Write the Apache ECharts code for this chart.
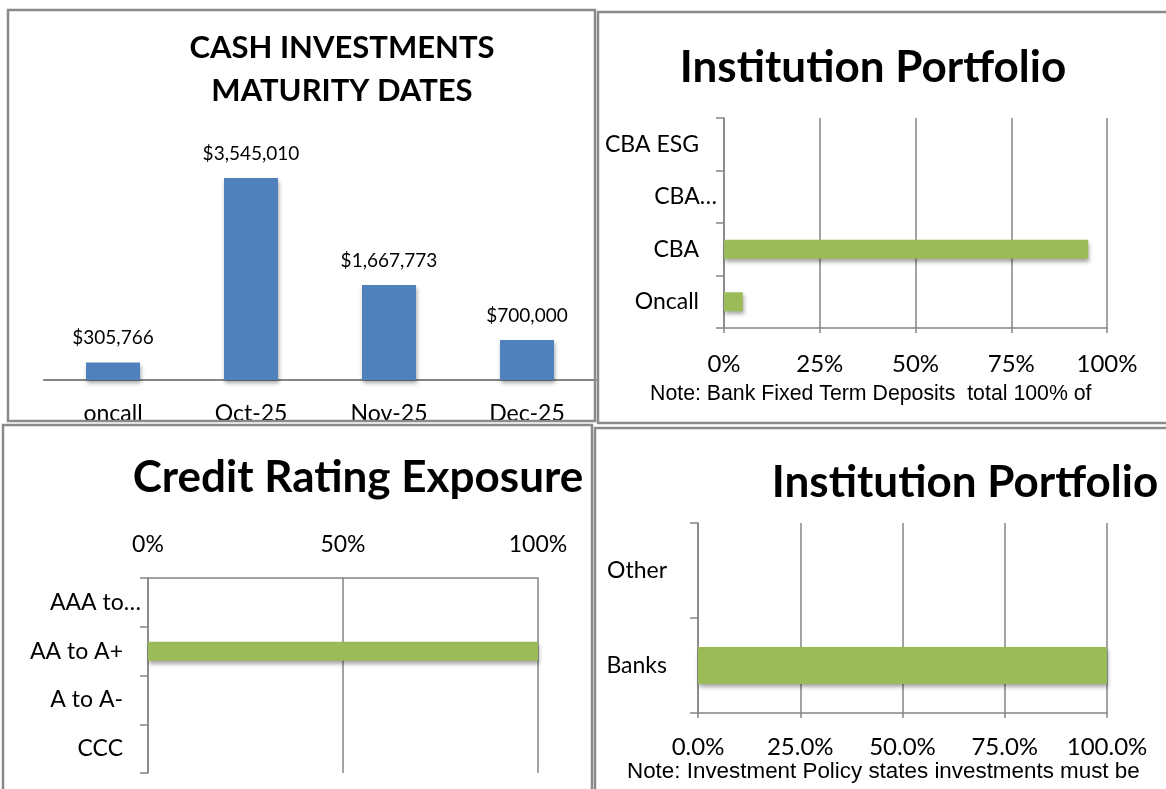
<!DOCTYPE html>
<html>
<head>
<meta charset="utf-8">
<script src="https://cdn.jsdelivr.net/npm/echarts@6/dist/echarts.min.js"></script>
<style>
  html, body { margin: 0; padding: 0; background: #fff; }
  #chart { width: 1166px; height: 789px; }
</style>
</head>
<body>
<div id="chart"></div>
<script>
// cash maturity dates
const cashCategories = ['oncall', 'Oct-25', 'Nov-25', 'Dec-25']
const cashValues = [305766, 3545010, 1667773, 700000]

// institution portfolio (top)
const institutionCategories = ['Oncall', 'CBA', 'CBA…', 'CBA ESG']
const institutionShares = [0.049, 0.951, 0, 0]

// credit rating exposure
const ratingCategories = ['AAA to…', 'AA to A+', 'A to A-', 'CCC']
const ratingShares = [0, 1, 0, 0]

// institution portfolio (bottom)
const sectorCategories = ['Banks', 'Other']
const sectorShares = [1, 0]

const BLUE = '#4F81BD'
const GREEN = '#9BBB59'
const GRID_GREY = '#858585'
const FONT = 'Lato, "Open Sans", sans-serif'
const NOTE_FONT = '"Liberation Sans", Arial, sans-serif'

const chart = echarts.init(document.getElementById('chart'))

const barShadow = {
  shadowBlur: 4,
  shadowColor: 'rgba(0,0,0,0.35)',
  shadowOffsetX: 1,
  shadowOffsetY: 3
}

function pctAxis(gridIndex, interval, fmt, extra) {
  return Object.assign({
    type: 'value',
    gridIndex: gridIndex,
    min: 0,
    max: 1,
    interval: interval,
    axisLine: { show: true, lineStyle: { color: GRID_GREY, width: 1.5 } },
    axisTick: { show: true, length: 5, lineStyle: { color: GRID_GREY, width: 1.5 } },
    splitLine: { show: true, lineStyle: { color: GRID_GREY, width: 1.5 } },
    axisLabel: {
      color: '#000', fontFamily: FONT, fontSize: 24, margin: 24,
      formatter: fmt
    }
  }, extra || {})
}

// truncated labels (ending in …) sit closer to the axis, like the original
function catLabel(size, pad) {
  const base = { color: '#000', fontFamily: FONT, fontSize: size }
  return {
    color: '#000', fontFamily: FONT, fontSize: size, margin: 7,
    formatter: v => v.endsWith('…') ? '{cut|' + v + '}' : '{full|' + v + '}',
    rich: {
      cut: base,
      full: Object.assign({ padding: [0, pad, 0, 0] }, base)
    }
  }
}

function catAxis(gridIndex, data, extra) {
  return Object.assign({
    type: 'category',
    gridIndex: gridIndex,
    data: data,
    axisLine: { show: true, lineStyle: { color: GRID_GREY, width: 1.5 } },
    axisTick: { show: true, length: 8, lineStyle: { color: GRID_GREY, width: 1.5 } },
    axisLabel: catLabel(23, 18)
  }, extra || {})
}

function panelBorder(x, y, w, h) {
  return {
    type: 'rect',
    shape: { x: x, y: y, width: w, height: h },
    style: { fill: 'none', stroke: '#8a8a8a', lineWidth: 2.5 },
    z: 101
  }
}

function titleText(text, x, y, size, lineHeight) {
  return {
    type: 'text',
    x: x, y: y,
    style: {
      text: text,
      fill: '#000',
      font: 'bold ' + size + 'px ' + FONT,
      textAlign: 'center',
      textVerticalAlign: 'middle',
      lineHeight: lineHeight || size
    },
    z: 50
  }
}

function noteText(text, x, y, size) {
  return {
    type: 'text',
    x: x, y: y,
    style: {
      text: text,
      fill: '#000',
      font: size + 'px ' + NOTE_FONT,
      textVerticalAlign: 'middle'
    },
    z: 50
  }
}

const option = {
  animation: false,
  backgroundColor: '#fff',
  grid: [
    { left: 44, right: 570, top: 152, bottom: 409 },
    { left: 724, right: 59, top: 118, bottom: 461 },
    { left: 148, right: 628, top: 578, bottom: 16 },
    { left: 698, right: 59, top: 523, bottom: 76 }
  ],
  xAxis: [
    {
      type: 'category',
      gridIndex: 0,
      data: cashCategories,
      axisLine: { lineStyle: { color: GRID_GREY, width: 2 } },
      axisTick: { show: false },
      axisLabel: { color: '#000', fontFamily: FONT, fontSize: 23, margin: 22 }
    },
    pctAxis(1, 0.25, v => Math.round(v * 100) + '%'),
    pctAxis(2, 0.5, v => Math.round(v * 100) + '%', {
      position: 'top',
      axisTick: { show: false },
      axisLabel: {
        color: '#000', fontFamily: FONT, fontSize: 23, margin: 22,
        formatter: v => Math.round(v * 100) + '%'
      }
    }),
    pctAxis(3, 0.25, v => (v * 100).toFixed(1) + '%', {
      axisLabel: {
        color: '#000', fontFamily: FONT, fontSize: 24, margin: 22,
        formatter: v => (v * 100).toFixed(1) + '%'
      }
    })
  ],
  yAxis: [
    { type: 'value', gridIndex: 0, min: 0, max: 4000000, show: false },
    catAxis(1, institutionCategories),
    catAxis(2, ratingCategories, { inverse: true }),
    catAxis(3, sectorCategories, {
      axisLabel: { color: '#000', fontFamily: FONT, fontSize: 23, margin: 31 }
    })
  ],
  series: [
    {
      type: 'bar',
      xAxisIndex: 0, yAxisIndex: 0,
      data: cashValues,
      barWidth: 54,
      itemStyle: Object.assign({ color: BLUE }, barShadow),
      label: {
        show: true,
        position: 'top',
        distance: 15,
        color: '#000',
        fontFamily: FONT,
        fontSize: 19,
        formatter: p => '$' + p.value.toLocaleString('en-US')
      }
    },
    {
      type: 'bar',
      xAxisIndex: 1, yAxisIndex: 1,
      data: institutionShares,
      barWidth: 19,
      itemStyle: Object.assign({ color: GREEN }, barShadow)
    },
    {
      type: 'bar',
      xAxisIndex: 2, yAxisIndex: 2,
      data: ratingShares,
      barWidth: 19,
      itemStyle: Object.assign({ color: GREEN }, barShadow)
    },
    {
      type: 'bar',
      xAxisIndex: 3, yAxisIndex: 3,
      data: sectorShares,
      barWidth: 37,
      itemStyle: Object.assign({ color: GREEN }, barShadow)
    }
  ],
  graphic: [
    titleText('CASH INVESTMENTS\nMATURITY DATES', 342, 69, 31, 43),
    titleText('Institution Portfolio', 873, 68, 44),
    titleText('Credit Rating Exposure', 358, 478, 44),
    titleText('Institution Portfolio', 965, 483, 44),
    noteText('Note: Bank Fixed Term Deposits  total 100% of', 650, 394, 21.3),
    noteText('Note: Investment Policy states investments must be', 627, 772, 22.4),
    // mask the clipped axis labels below the first panel
    {
      type: 'rect',
      shape: { x: 0, y: 421, width: 597, height: 3 },
      style: { fill: '#fff' },
      z: 100
    },
    panelBorder(8, 10, 587, 411),
    panelBorder(598, 12, 580, 411),
    panelBorder(3, 425, 589, 380),
    panelBorder(595, 428, 590, 380)
  ]
}

chart.setOption(option)
</script>
</body>
</html>
